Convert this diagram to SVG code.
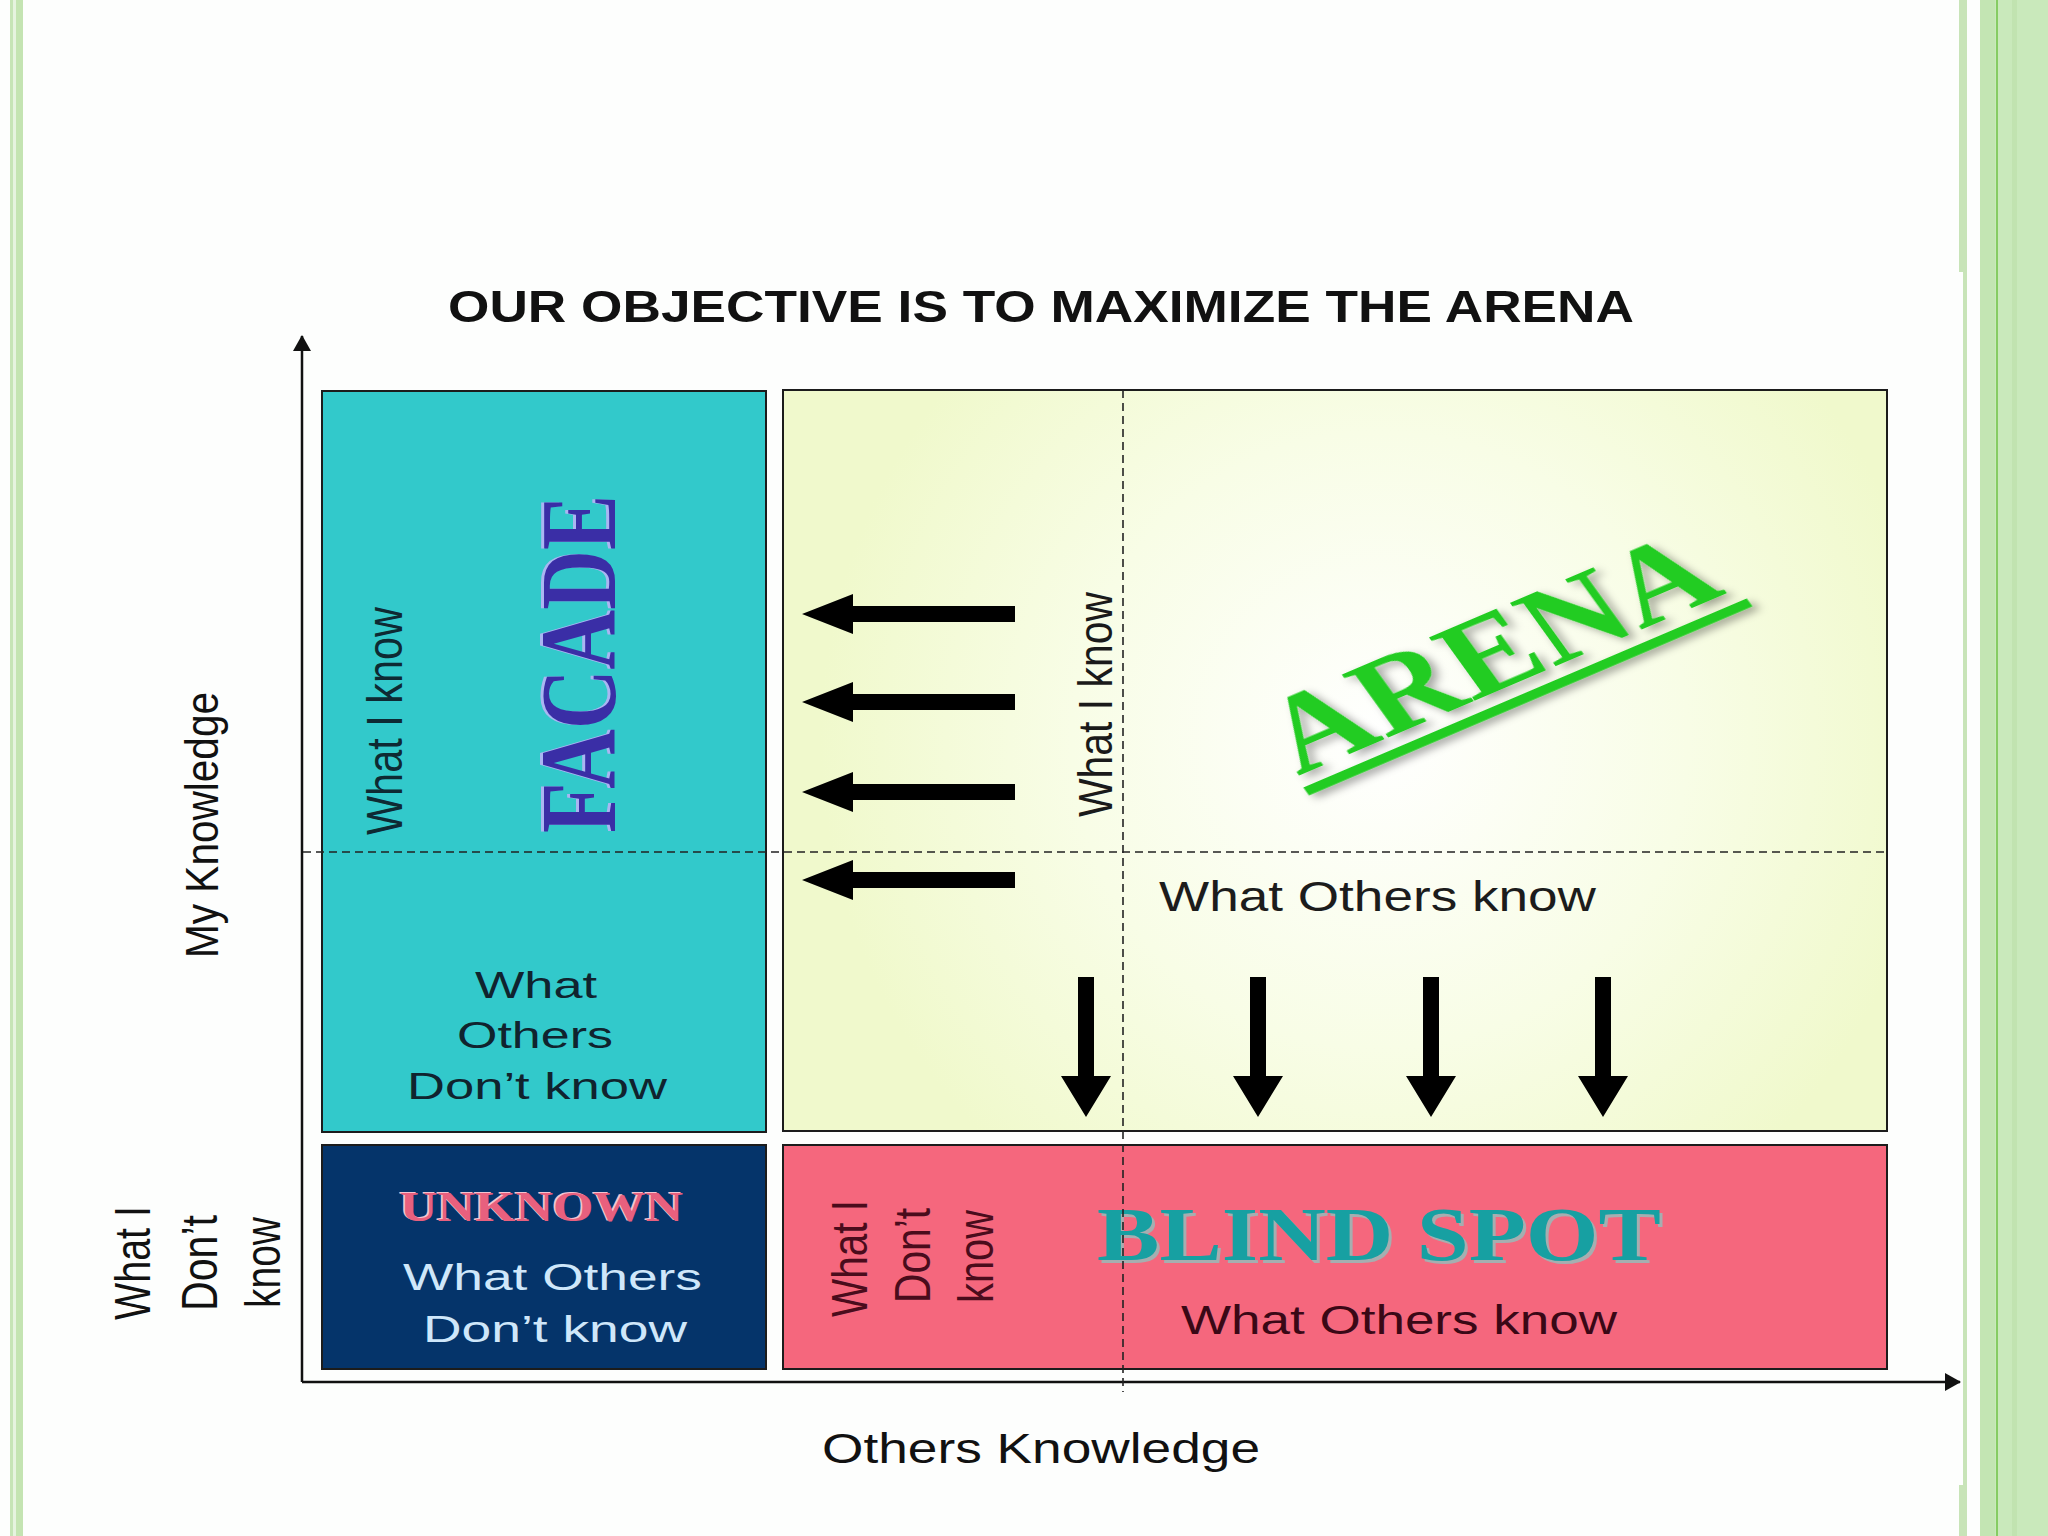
<svg xmlns="http://www.w3.org/2000/svg" width="2048" height="1536" viewBox="0 0 2048 1536">
  <defs>
    <style>
      .sans { font-family: "Liberation Sans", Arial, sans-serif; }
      .serif { font-family: "Liberation Serif", "Times New Roman", serif; font-weight: bold; }
      .box { stroke: #1c1c1c; stroke-width: 2; }
      .dash { stroke: #222; stroke-width: 1.6; stroke-dasharray: 8 5; fill: none; }
      .axis { stroke: #111; stroke-width: 2.5; fill: none; }
      .arrow { fill: #000; }
    </style>
    <radialGradient id="arenaGrad" cx="1380" cy="740" r="560" gradientUnits="userSpaceOnUse">
      <stop offset="0" stop-color="#ffffff"/>
      <stop offset="0.55" stop-color="#f8fde6"/>
      <stop offset="1" stop-color="#f0f9cc"/>
    </radialGradient>
    <filter id="shadow" x="-10%" y="-20%" width="130%" height="150%">
      <feDropShadow dx="3" dy="5" stdDeviation="4" flood-color="#000" flood-opacity="0.35"/>
    </filter>
    <marker id="axisHead" markerWidth="16" markerHeight="18" refX="15" refY="9" orient="auto" markerUnits="userSpaceOnUse" viewBox="0 0 16 18">
      <path d="M0,0 L16,9 L0,18 Z" fill="#111"/>
    </marker>
    <path id="leftArrow" d="M0,0 L51,-20 L51,-8 L213,-8 L213,8 L51,8 L51,20 Z"/>
    <path id="downArrow" d="M0,0 L41,-25 L41,-8 L140,-8 L140,8 L41,8 L41,25 Z"/>
  </defs>

  <!-- background -->
  <rect x="0" y="0" width="2048" height="1536" fill="#fdfefd"/>

  <!-- page borders -->
  <g id="border">
    <rect x="10" y="0" width="3" height="1536" fill="#c6e4b6"/>
    <rect x="13" y="0" width="3" height="1536" fill="#e6f3df"/>
    <rect x="16" y="0" width="7" height="1536" fill="#c4e4b2"/>
    <rect x="1959" y="0" width="8" height="272" fill="#c8e4b8"/>
    <rect x="1963" y="272" width="4" height="1213" fill="#c8e4b8"/>
    <rect x="1959" y="1485" width="8" height="51" fill="#c8e4b8"/>
    <rect x="1980" y="0" width="68" height="1536" fill="#c9e9bb"/>
    <rect x="1980" y="0" width="15" height="1536" fill="#c3e5b3"/>
    <rect x="1996" y="0" width="2" height="1536" fill="#86cc63"/>
    <rect x="2012" y="0" width="5" height="1536" fill="#c1e3b0"/>
  </g>

  <!-- title -->
  <text id="title" class="sans" x="448" y="322" font-size="45" font-weight="bold" fill="#111" textLength="1186" lengthAdjust="spacingAndGlyphs">OUR OBJECTIVE IS TO MAXIMIZE THE ARENA</text>

  <!-- FACADE -->
  <g id="facade">
    <rect class="box" x="322" y="391" width="444" height="741" fill="#32c9cb"/>
    <text class="sans" transform="translate(402,835) rotate(-90)" font-size="50" fill="#0e2a33" textLength="228" lengthAdjust="spacingAndGlyphs">What I know</text>
    <text class="serif" transform="translate(612,833) rotate(-90)" font-size="108" fill="#aab6f2" textLength="338" lengthAdjust="spacingAndGlyphs">FACADE</text>
    <text class="serif" transform="translate(615,833) rotate(-90)" font-size="108" fill="#3a2ea6" textLength="338" lengthAdjust="spacingAndGlyphs">FACADE</text>
    <g class="sans" font-size="36" fill="#10232e">
      <text x="475" y="998" textLength="122" lengthAdjust="spacingAndGlyphs">What</text>
      <text x="457" y="1048" textLength="156" lengthAdjust="spacingAndGlyphs">Others</text>
      <text x="407" y="1099" textLength="260" lengthAdjust="spacingAndGlyphs">Don’t know</text>
    </g>
  </g>

  <!-- ARENA -->
  <g id="arena">
    <rect class="box" x="783" y="390" width="1104" height="741" fill="url(#arenaGrad)"/>
    <text class="sans" transform="translate(1112,817) rotate(-90)" font-size="48" fill="#1a1a1a" textLength="225" lengthAdjust="spacingAndGlyphs">What I know</text>
    <g transform="translate(1298,776) scale(1.3,1) rotate(-29)" filter="url(#shadow)">
      <text class="serif" x="0" y="0" font-size="110" fill="#22cc22" textLength="378" lengthAdjust="spacingAndGlyphs">ARENA</text>
      <rect x="-2" y="12" width="390" height="9" fill="#22cc22"/>
    </g>
    <text class="sans" x="1159" y="911" font-size="43" fill="#1c1c1c" textLength="437" lengthAdjust="spacingAndGlyphs">What Others know</text>
  </g>

  <!-- UNKNOWN -->
  <g id="unknown">
    <rect class="box" x="322" y="1145" width="444" height="224" fill="#05346a"/>
    <text class="serif" x="398" y="1220" font-size="42" fill="#f4c2d0" textLength="283" lengthAdjust="spacingAndGlyphs">UNKNOWN</text>
    <text class="serif" x="400" y="1221" font-size="42" fill="#e8607e" textLength="283" lengthAdjust="spacingAndGlyphs">UNKNOWN</text>
    <g class="sans" font-size="36" fill="#cfe7fa">
      <text x="403" y="1290" textLength="299" lengthAdjust="spacingAndGlyphs">What Others</text>
      <text x="423" y="1342" textLength="264" lengthAdjust="spacingAndGlyphs">Don’t know</text>
    </g>
  </g>

  <!-- BLIND SPOT -->
  <g id="blindspot">
    <rect class="box" x="783" y="1145" width="1104" height="224" fill="#f5677d"/>
    <g class="sans" font-size="50" fill="#4a0c1c">
      <text transform="translate(867,1317) rotate(-90)" textLength="117" lengthAdjust="spacingAndGlyphs">What I</text>
      <text transform="translate(930,1303) rotate(-90)" textLength="95" lengthAdjust="spacingAndGlyphs">Don’t</text>
      <text transform="translate(993,1303) rotate(-90)" textLength="93" lengthAdjust="spacingAndGlyphs">know</text>
    </g>
    <text class="serif" x="1100" y="1263" font-size="76" fill="#a6aeb0" textLength="564" lengthAdjust="spacingAndGlyphs">BLIND SPOT</text>
    <text class="serif" x="1097" y="1260" font-size="76" fill="#17a0a2" textLength="564" lengthAdjust="spacingAndGlyphs">BLIND SPOT</text>
    <text class="sans" x="1181" y="1334" font-size="40" fill="#3a0816" textLength="436" lengthAdjust="spacingAndGlyphs">What Others know</text>
  </g>

  <!-- axes, dividers and axis labels -->
  <g id="axes">
    <path class="axis" d="M302,1382 L302,336" marker-end="url(#axisHead)"/>
    <path class="axis" d="M302,1382 L1960,1382" marker-end="url(#axisHead)"/>
    <path class="dash" d="M303,852 L1887,852"/>
    <path class="dash" d="M1123,390 L1123,1392" stroke-dasharray="8 4"/>
    <text class="sans" transform="translate(218,958) rotate(-90)" font-size="46" fill="#111" textLength="266" lengthAdjust="spacingAndGlyphs">My Knowledge</text>
    <g class="sans" font-size="50" fill="#111">
      <text transform="translate(150,1320) rotate(-90)" textLength="114" lengthAdjust="spacingAndGlyphs">What I</text>
      <text transform="translate(217,1311) rotate(-90)" textLength="96" lengthAdjust="spacingAndGlyphs">Don’t</text>
      <text transform="translate(280,1308) rotate(-90)" textLength="91" lengthAdjust="spacingAndGlyphs">know</text>
    </g>
    <text class="sans" x="822" y="1463" font-size="43" fill="#111" textLength="438" lengthAdjust="spacingAndGlyphs">Others Knowledge</text>
  </g>

  <!-- connectors: movement arrows -->
  <g id="connectors" class="arrow">
    <use href="#leftArrow" transform="translate(802,614)"/>
    <use href="#leftArrow" transform="translate(802,702)"/>
    <use href="#leftArrow" transform="translate(802,792)"/>
    <use href="#leftArrow" transform="translate(802,880)"/>
    <use href="#downArrow" transform="translate(1086,1117) rotate(-90)"/>
    <use href="#downArrow" transform="translate(1258,1117) rotate(-90)"/>
    <use href="#downArrow" transform="translate(1431,1117) rotate(-90)"/>
    <use href="#downArrow" transform="translate(1603,1117) rotate(-90)"/>
  </g>
</svg>
